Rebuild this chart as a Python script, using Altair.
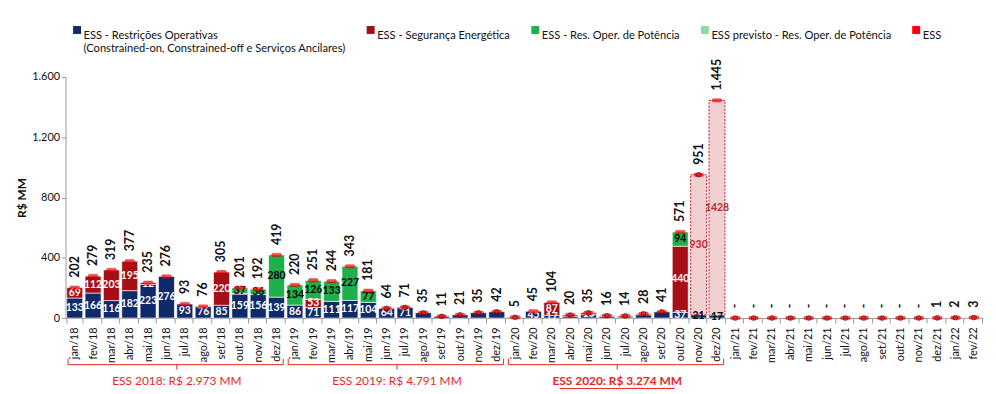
import altair as alt
import pandas as pd

FONT = "Lato"

months = ["jan/18","fev/18","mar/18","abr/18","mai/18","jun/18","jul/18","ago/18","set/18","out/18","nov/18","dez/18",
          "jan/19","fev/19","mar/19","abr/19","mai/19","jun/19","jul/19","ago/19","set/19","out/19","nov/19","dez/19",
          "jan/20","fev/20","mar/20","abr/20","mai/20","jun/20","jul/20","ago/20","set/20","out/20","nov/20","dez/20",
          "jan/21","fev/21","mar/21","abr/21","mai/21","jun/21","jul/21","ago/21","set/21","out/21","nov/21","dez/21",
          "jan/22","fev/22"]

restricoes = [133,166,116,182,223,276,93,76,85,159,156,139,
              86,71,111,117,104,64,71,35,11,21,35,42,
              5,45,17,12,22,10,8,22,41,37,21,17,
              0,0,0,0,0,0,0,0,0,0,0,0,
              0,0]
seguranca = [69,112,203,195,12,0,0,0,220,5,0,0,
             0,53,0,0,0,0,0,0,0,0,0,0,
             0,0,87,8,13,6,6,6,0,440,0,0,
             0,0,0,0,0,0,0,0,0,0,0,1,
             2,3]
potencia = [0,0,0,0,0,0,0,0,0,37,36,280,
            134,126,133,227,77,0,0,0,0,0,0,0,
            0,0,0,0,0,0,0,0,0,94,0,0,
            0,0,0,0,0,0,0,0,0,0,0,0,
            0,0]
previsto_seg = [0]*33 + [0,930,1428] + [0]*14
totais = [202,279,319,377,235,276,93,76,305,201,192,419,
          220,251,244,343,181,64,71,35,11,21,35,42,
          5,45,104,20,35,16,14,28,41,571,951,1445,
          0,0,0,0,0,0,0,0,0,0,0,1,
          2,3]

series_names = ["ESS - Restrições Operativas|(Constrained-on, Constrained-off e Serviços Ancilares)",
                "ESS - Segurança Energética",
                "ESS - Res. Oper. de Potência",
                "ESS previsto - Res. Oper. de Potência",
                "ESS"]
series_colors = ["#0f2a6b", "#a50f15", "#1fb04c", "#8fd9a6", "#ff0000"]

groups = ["ESS 2018: R$ 2.973 MM", "ESS 2019: R$ 4.791 MM", "ESS 2020: R$ 3.274 MM"]
group_start = ["jan/18", "jan/19", "jan/20"]
group_end = ["dez/18", "dez/19", "dez/20"]
group_mid = ["jul/18", "jul/19", "jul/20"]

# ---- build tables ----
seg_rows, lab_rows, prev_rows = [], [], []
for i, m in enumerate(months):
    b, r, g, p = restricoes[i], seguranca[i], potencia[i], previsto_seg[i]
    base = 0
    prev_month = p > 0
    for name, v in ((series_names[0], b), (series_names[1], r), (series_names[2], g)):
        if v > 0:
            seg_rows.append({"month": m, "series": name, "y0": base, "y1": base + v})
            col = "white"
            if name == series_names[0]:
                show = v >= 17 and totais[i] >= 45
                col = "black" if prev_month else "white"
            elif name == series_names[1]:
                show = v >= 12
            else:
                show = v >= 30
                col = "black"
            if show:
                lab_rows.append({"month": m, "ym": base + v / 2, "txt": str(v), "col": col})
            base += v
    if p > 0:
        prev_rows.append({"month": m, "y0": base, "y1": base + p})
        lab_rows.append({"month": m, "ym": base + p / 2, "txt": str(p), "col": "#c0282d"})

segs = pd.DataFrame(seg_rows)
labs = pd.DataFrame(lab_rows)
prev = pd.DataFrame(prev_rows)
tot = pd.DataFrame({
    "month": months,
    "total": totais,
    "label": [("-" if t == 0 else f"{t:,}".replace(",", ".")) for t in totais],
    "circ": [(t <= 71 and t != 45) or t == 951 for t in totais],
})
grp = pd.DataFrame({"label": groups, "start": group_start, "end": group_end, "mid": group_mid,
                    "bold": [False, False, True]})

W, H = 925, 243

xscale = alt.Scale(domain=months, paddingInner=0.13, paddingOuter=0.065)
x_axis = alt.Axis(title=None, labelAngle=270, labelAlign="right", labelBaseline="middle",
                  labelFontSize=11, labelFont=FONT, labelColor="#111", labelPadding=4,
                  tickBand="extent", tickSize=5, tickColor="#9a9a9a", domainColor="#9a9a9a")
X = alt.X("month:N", scale=xscale, axis=x_axis, sort=months)
Xn = alt.X("month:N", scale=xscale, sort=months)
yscale = alt.Scale(domain=[0, 1600], nice=False)
y_axis = alt.Axis(title="R$ MM", values=list(range(0, 1601, 200)),
                  labelExpr="replace(format(datum.value, ','), ',', '.')",
                  grid=False, labelFontSize=11, labelFont=FONT, labelColor="#111",
                  titleFont=FONT, titleFontSize=12, titleFontWeight="bold", titleColor="#111",
                  titlePadding=3, tickSize=4, tickColor="#9a9a9a", domainColor="#9a9a9a")

sym_enc = {"symbols": {"update": {"shape": {"signal": "datum.value === 'ESS' ? 'M-1,-0.3H1V0.3H-1Z' : 'square'"}}}}
legend_kw = dict(title=None, orient="none", legendX=6, legendY=-53, direction="horizontal",
                 columns=5, columnPadding=19, labelFont=FONT, labelFontSize=11.2, labelColor="#111",
                 symbolSize=64, symbolType="square", symbolStrokeWidth=0, labelOffset=1,
                 labelExpr="indexof(datum.label, '|') >= 0 ? split(datum.label, '|') : [datum.label, ' ']",
                 labelBaseline="top", symbolOffset=0, labelLimit=400)


def make_legend():
    for key in ("encode", "encoding"):
        try:
            lg = alt.Legend(**legend_kw, **{key: sym_enc})
            lg.to_dict()
            return lg
        except Exception:
            pass
    return alt.Legend(**legend_kw)


bars = alt.Chart(segs).mark_bar(stroke="white", strokeWidth=0.6).encode(
    x=X,
    y=alt.Y("y1:Q", scale=yscale, axis=y_axis),
    y2="y0:Q",
    color=alt.Color("series:N", scale=alt.Scale(domain=series_names, range=series_colors),
                    legend=make_legend()),
)

prev_bars = alt.Chart(prev).mark_bar(fill="#f2cfd1", stroke="#b8202a", strokeDash=[2, 1.5],
                                     strokeWidth=1).encode(x=Xn, y="y1:Q", y2="y0:Q")

seg_text = alt.Chart(labs).mark_text(font=FONT, fontSize=10.5, fontWeight="bold").encode(
    x=Xn, y="ym:Q", text="txt:N", color=alt.Color("col:N", scale=None))

ess_tick = alt.Chart(tot).mark_tick(color="#ff0000", size=10, thickness=3.5, stroke="#c00000",
                                    strokeWidth=0.5, cornerRadius=1.5).encode(x=Xn, y="total:Q")

ess_circ = alt.Chart(tot).transform_filter("datum.circ").mark_point(
    shape="circle", size=22, filled=True, color="#e01010", stroke="#5a0000", strokeWidth=1).encode(
    x=Xn, y="total:Q")

tot_text = alt.Chart(tot).mark_text(
    angle=270, align="left", baseline="middle", dx=10,
    font=FONT, fontSize=12.5, fontWeight="bold", color="#111").encode(
    x=Xn, y="total:Q", text="label:N")

# group brackets below the axis
RED = "#e8271f"
br_line = alt.Chart(grp).mark_rule(color=RED, strokeWidth=1).encode(
    x=alt.X("start:N", scale=xscale, sort=months, bandPosition=0.08),
    x2=alt.X2("end:N", bandPosition=0.92),
    y=alt.value(H + 47))
br_l = alt.Chart(grp).mark_rule(color=RED, strokeWidth=1).encode(
    x=alt.X("start:N", scale=xscale, sort=months, bandPosition=0.08),
    y=alt.value(H + 41), y2=alt.value(H + 47))
br_r = alt.Chart(grp).mark_rule(color=RED, strokeWidth=1).encode(
    x=alt.X("end:N", scale=xscale, sort=months, bandPosition=0.92),
    y=alt.value(H + 41), y2=alt.value(H + 47))
br_m = alt.Chart(grp).mark_rule(color=RED, strokeWidth=1).encode(
    x=alt.X("mid:N", scale=xscale, sort=months, bandPosition=0),
    y=alt.value(H + 47), y2=alt.value(H + 52))
br_txt = alt.Chart(grp).transform_filter("!datum.bold").mark_text(
    color=RED, font=FONT, fontSize=12, baseline="middle").encode(
    x=alt.X("mid:N", scale=xscale, sort=months, bandPosition=0),
    y=alt.value(H + 63), text="label:N")
br_txt_b = alt.Chart(grp).transform_filter("datum.bold").mark_text(
    color=RED, font=FONT, fontSize=12, fontWeight="bold", baseline="middle").encode(
    x=alt.X("mid:N", scale=xscale, sort=months, bandPosition=0),
    y=alt.value(H + 63), text="label:N")
br_ul = alt.Chart(grp).transform_filter("datum.bold").mark_rule(
    color=RED, strokeWidth=1, xOffset=-58, x2Offset=58).encode(
    x=alt.X("mid:N", scale=xscale, sort=months, bandPosition=0),
    x2=alt.X2("mid:N", bandPosition=0),
    y=alt.value(H + 71))

chart = alt.layer(
    bars, prev_bars, seg_text, ess_tick, ess_circ, tot_text,
    br_line, br_l, br_r, br_m, br_txt, br_txt_b, br_ul,
).properties(
    width=W, height=H,
    autosize=alt.AutoSizeParams(type="none"),
    padding={"left": 58, "top": 68, "right": 5, "bottom": 75},
    background="white",
).configure_view(stroke=None)

chart.save("out.html", embed_options={"renderer": "svg", "actions": False})
